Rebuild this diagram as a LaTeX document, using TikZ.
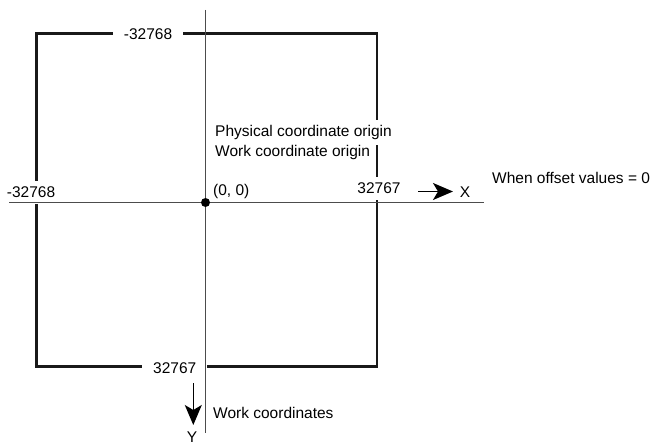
\documentclass[tikz,border=0pt]{standalone}
\usepackage{fontspec}
\setmainfont{Liberation Sans}
\usetikzlibrary{arrows.meta}

\begin{document}
\begin{tikzpicture}[x=1pt,y=-1pt,font=\fontsize{15.5}{18.6}\selectfont]
  \tikzstyle{frame}=[line width=2.6pt,black!90]
  \tikzstyle{axis}=[line width=1.3pt,black!70]
  \tikzstyle{lim}=[fill=white,inner xsep=11pt,inner ysep=6pt,text height=11pt,text depth=0pt,anchor=base]
  \tikzstyle{lab}=[inner sep=0pt,anchor=base west]
  \tikzstyle{dir}=[-{Stealth[length=20pt,width=17pt,inset=5pt]},line width=1.4pt]

  \useasboundingbox (0,0) rectangle (657,444);

  \coordinate (tl) at (36.7,33.5);
  \coordinate (tr) at (377,33.5);
  \coordinate (br) at (377,366.7);
  \coordinate (bl) at (36.7,366.7);
  \draw [frame] (tl) -- (tr) -- (br) -- (bl) -- cycle;

  \node [lim] (ymin) at (148,40) {-32768};
  \node [lim] (xmin) at (31,197.5) {-32768};
  \node [lim] (xmax) at (379,193.5) {32767};
  \node [lim] (ymax) at (174.7,373) {32767};

  \node [lab,fill=white,inner xsep=2pt,inner ysep=5pt] (phys) at (213,136.7) {Physical coordinate origin};
  \node [lab] (work) at (215,156.7) {Work coordinate origin};

  \coordinate (xl) at (9,202.5);
  \coordinate (xr) at (484,202.5);
  \coordinate (yt) at (205.5,10);
  \coordinate (yb) at (205.5,433);
  \draw [axis] (xl) -- (xr);
  \draw [axis] (yt) -- (yb);

  \node [circle,fill,inner sep=0pt,minimum size=9pt] (o) at (205.5,202.5) {};
  \node [lab] (zero) at (213,195.5) {(0, 0)};

  \coordinate (xa) at (418,191.5);
  \coordinate (xb) at (453,191.5);
  \draw [dir] (xa) -- (xb);
  \node [anchor=base,inner sep=0pt] (xname) at (465,197) {X};
  \node [lab] (offset) at (492,183) {When offset values = 0};

  \coordinate (ya) at (193.3,383);
  \coordinate (yz) at (193.3,425);
  \draw [dir] (ya) -- (yz);
  \node [anchor=base,inner sep=0pt] (yname) at (192,442) {Y};
  \node [lab] (workc) at (213,418) {Work coordinates};
\end{tikzpicture}
\end{document}
